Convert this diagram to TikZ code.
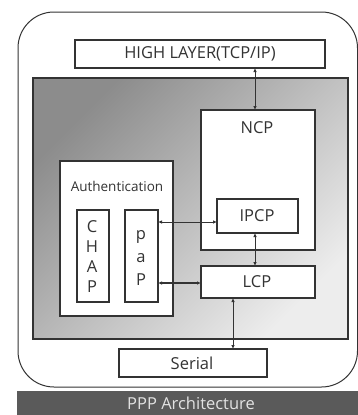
\documentclass[tikz,border=0pt]{standalone}
\usepackage{fontspec}
\setmainfont{Open Sans}
\usetikzlibrary{arrows.meta}
\definecolor{edge}{HTML}{333333}
\definecolor{txt}{HTML}{333333}
\definecolor{shdark}{HTML}{8C8C8C}
\definecolor{shlight}{HTML}{EDEDED}
\definecolor{barc}{HTML}{5A5A5A}
\definecolor{bartxt}{HTML}{E2E2E2}
\tikzset{
  box/.style={draw=edge, line width=1.1pt, fill=white, inner sep=0pt},
  lbl/.style={text=txt, font=\fontsize{16.5}{16.5}\selectfont, inner sep=0pt},
  link/.style={draw=edge, line width=1pt, {Latex[length=4pt,width=3.5pt]}-{Latex[length=4pt,width=3.5pt]}},
}
\begin{document}
\begin{tikzpicture}[x=1pt,y=-1pt]
\useasboundingbox (0,0) rectangle (358,415);
\fill[white] (0,0) rectangle (358,415);
% outer rounded frame
\draw[edge, line width=1pt, rounded corners=36pt] (18,12) rectangle (357.5,387);
% caption bar
\fill[barc] (17,391) rectangle (358,415);
\node[text=bartxt, font=\fontsize{16.5}{16.5}\selectfont, inner sep=0pt] (cap) at (191,403) {PPP Architecture};
% gray shaded region
\shade[top color=shdark, bottom color=shlight, shading angle=45] (33,78) rectangle (348,339);
\draw[edge, line width=1.1pt] (33,78) rectangle (348,339);
% boxes
\draw[box] (75,40) rectangle (325,68);
\node[lbl] (high) at (200,54) {HIGH LAYER(TCP/IP)};
\coordinate (highB) at (255,68);
\draw[box] (201,110) rectangle (315,250);
\node[lbl] (ncp) at (257,128) {NCP};
\coordinate (ncpT) at (255,110);
\draw[box] (60,161) rectangle (173,316);
\node[lbl, font=\fontsize{13.5}{13.5}\selectfont] (auth) at (117,186) {Authentication};
\draw[box] (77,210) rectangle (109,302);
\node[lbl] (c1) at (92,227) {C};
\node[lbl] (c2) at (92,247) {H};
\node[lbl] (c3) at (92,267) {A};
\node[lbl] (c4) at (92,287) {P};
\draw[box] (125,210) rectangle (158,302);
\node[lbl] (p1) at (141,237) {p};
\node[lbl] (p2) at (141,258) {a};
\node[lbl] (p3) at (141,280) {P};
\coordinate (papA) at (158,222);
\coordinate (papB) at (158,283);
\draw[box] (217,199) rectangle (298,233);
\node[lbl] (ipcp) at (257,216) {IPCP};
\coordinate (ipcpL) at (217,222);
\coordinate (ipcpB) at (255,233);
\draw[box] (201,266) rectangle (315,298);
\node[lbl] (lcp) at (257,282) {LCP};
\coordinate (lcpL) at (201,283);
\coordinate (lcpT) at (255,266);
\coordinate (lcpB) at (233,298);
\draw[box] (119,349) rectangle (267,377);
\node[lbl] (serial) at (192,363) {Serial};
\coordinate (serT) at (233,349);
% connectors
\draw[link] (highB) -- (ncpT);
\draw[link] (papA) -- (ipcpL);
\draw[link] (ipcpB) -- (lcpT);
\draw[link, line width=1.4pt] (papB) -- (lcpL);
\draw[link] (lcpB) -- (serT);
\end{tikzpicture}
\end{document}
